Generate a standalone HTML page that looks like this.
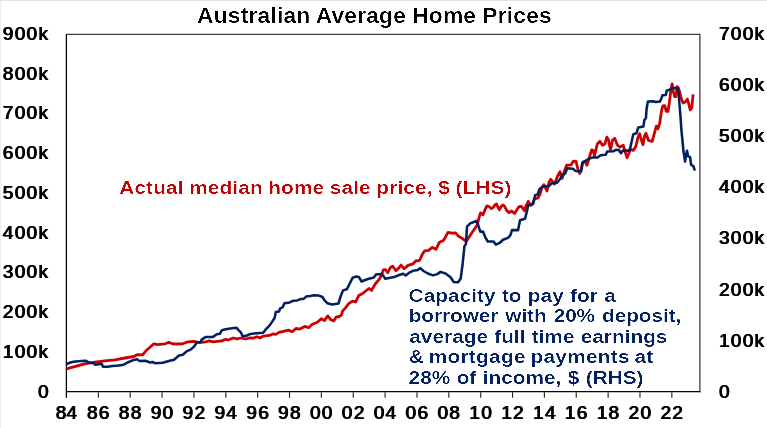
<!DOCTYPE html>
<html lang="en"><head><meta charset="utf-8"><title>Australian Average Home Prices</title>
<style>html,body{margin:0;padding:0;background:#fff;overflow:hidden}body{width:767px;height:428px}svg{display:block}text{font-family:"Liberation Sans",Arial,sans-serif}</style></head><body>
<svg width="767" height="428" viewBox="0 0 767 428">
<defs><filter id="ax" x="-20%" y="-30%" width="140%" height="160%"><feOffset in="SourceGraphic" dx="0.7" dy="0" result="o0"/><feOffset in="SourceGraphic" dx="1.4" dy="0" result="o1"/><feMerge><feMergeNode in="SourceGraphic"/><feMergeNode in="o0"/><feMergeNode in="o1"/></feMerge></filter><filter id="an" x="-5%" y="-30%" width="110%" height="160%" color-interpolation-filters="sRGB"><feGaussianBlur in="SourceGraphic" stdDeviation="0.01 0.45"/><feComponentTransfer><feFuncA type="linear" slope="3" intercept="-1.480"/></feComponentTransfer></filter><filter id="ti" x="-5%" y="-30%" width="110%" height="160%" color-interpolation-filters="sRGB"><feGaussianBlur in="SourceGraphic" stdDeviation="0.01 0.4"/><feComponentTransfer><feFuncA type="linear" slope="3" intercept="-1.480"/></feComponentTransfer></filter></defs>
<rect width="767" height="428" fill="#fff"/>
<rect x="0" y="0" width="767" height="1" fill="#e2e2e2"/>
<rect x="0" y="0" width="1" height="428" fill="#ededed"/>
<line x1="66.5" y1="34.4" x2="700.45" y2="34.4" stroke="#404040" stroke-width="1.25"/>
<line x1="699.85" y1="34.4" x2="699.85" y2="392.15000000000003" stroke="#585858" stroke-width="1.5"/>
<line x1="66.38" y1="33.9" x2="66.38" y2="397.85" stroke="#000" stroke-width="1.25"/>
<line x1="65.9" y1="391.68" x2="700.5500000000001" y2="391.68" stroke="#050505" stroke-width="1.36"/>
<line x1="98.36" y1="392.2" x2="98.36" y2="397.85" stroke="#262626" stroke-width="1.15"/>
<line x1="130.22" y1="392.2" x2="130.22" y2="397.85" stroke="#262626" stroke-width="1.15"/>
<line x1="162.08" y1="392.2" x2="162.08" y2="397.85" stroke="#262626" stroke-width="1.15"/>
<line x1="193.94" y1="392.2" x2="193.94" y2="397.85" stroke="#262626" stroke-width="1.15"/>
<line x1="225.80" y1="392.2" x2="225.80" y2="397.85" stroke="#262626" stroke-width="1.15"/>
<line x1="257.66" y1="392.2" x2="257.66" y2="397.85" stroke="#262626" stroke-width="1.15"/>
<line x1="289.52" y1="392.2" x2="289.52" y2="397.85" stroke="#262626" stroke-width="1.15"/>
<line x1="321.38" y1="392.2" x2="321.38" y2="397.85" stroke="#262626" stroke-width="1.15"/>
<line x1="353.24" y1="392.2" x2="353.24" y2="397.85" stroke="#262626" stroke-width="1.15"/>
<line x1="385.10" y1="392.2" x2="385.10" y2="397.85" stroke="#262626" stroke-width="1.15"/>
<line x1="416.96" y1="392.2" x2="416.96" y2="397.85" stroke="#262626" stroke-width="1.15"/>
<line x1="448.82" y1="392.2" x2="448.82" y2="397.85" stroke="#262626" stroke-width="1.15"/>
<line x1="480.68" y1="392.2" x2="480.68" y2="397.85" stroke="#262626" stroke-width="1.15"/>
<line x1="512.54" y1="392.2" x2="512.54" y2="397.85" stroke="#262626" stroke-width="1.15"/>
<line x1="544.40" y1="392.2" x2="544.40" y2="397.85" stroke="#262626" stroke-width="1.15"/>
<line x1="576.26" y1="392.2" x2="576.26" y2="397.85" stroke="#262626" stroke-width="1.15"/>
<line x1="608.12" y1="392.2" x2="608.12" y2="397.85" stroke="#262626" stroke-width="1.15"/>
<line x1="639.98" y1="392.2" x2="639.98" y2="397.85" stroke="#262626" stroke-width="1.15"/>
<line x1="671.84" y1="392.2" x2="671.84" y2="397.85" stroke="#262626" stroke-width="1.15"/>
<path d="M66.4,368.8 L74.6,366.6 L84.7,363.8 L94.8,362.2 L104.9,360.9 L115.0,359.9 L125.0,358.0 L133.9,356.5 L137.7,354.6 L142.7,354.8 L145.9,350.8 L150.3,347.0 L153.8,343.8 L157.6,344.7 L165.1,343.8 L168.9,342.4 L173.3,344.0 L182.8,343.8 L187.8,341.8 L194.1,341.3 L199.2,342.5 L205.5,341.8 L209.3,340.9 L213.0,341.8 L221.9,340.9 L225.7,339.3 L228.2,340.0 L233.2,338.0 L237.0,338.8 L240.8,338.0 L245.8,339.0 L249.3,338.0 L253.1,338.2 L256.9,336.7 L260.0,338.0 L263.2,336.1 L269.5,335.4 L272.7,333.9 L275.8,334.4 L279.0,332.3 L283.4,331.4 L288.4,330.1 L292.2,331.7 L296.0,328.5 L299.8,329.1 L304.8,326.4 L308.6,327.6 L312.4,324.3 L317.4,322.2 L321.2,318.8 L324.4,320.6 L327.8,315.9 L330.7,319.7 L333.8,320.9 L336.4,316.8 L339.3,316.5 L341.4,315.1 L342.5,311.1 L345.2,308.1 L348.7,303.6 L352.5,301.1 L355.6,302.0 L358.8,295.6 L362.6,293.5 L365.7,291.0 L368.9,288.5 L371.6,290.4 L375.2,284.0 L379.0,279.6 L381.5,275.2 L383.4,269.9 L385.3,269.5 L387.8,272.7 L390.3,267.7 L392.6,266.1 L396.0,270.8 L398.5,268.3 L401.0,265.1 L404.2,268.7 L408.0,265.4 L413.0,263.9 L415.7,261.0 L419.7,260.3 L422.2,254.6 L424.7,250.8 L428.5,250.4 L432.3,247.4 L436.1,249.2 L439.2,242.6 L443.6,240.3 L446.2,235.7 L448.0,232.3 L451.8,233.2 L455.6,232.8 L458.8,236.6 L462.2,238.3 L466.2,241.5 L471.4,233.5 L477.1,225.3 L479.2,217.0 L480.5,212.9 L483.0,214.8 L485.1,209.5 L486.9,205.9 L489.3,206.8 L491.4,208.7 L493.5,207.2 L494.8,204.9 L496.5,203.9 L498.2,207.8 L499.4,209.8 L501.1,206.6 L502.8,205.0 L504.5,206.2 L506.6,210.4 L509.1,212.7 L511.3,211.0 L514.6,213.4 L516.7,210.1 L518.9,206.7 L521.5,206.5 L524.4,210.8 L526.0,205.8 L528.3,201.3 L530.5,205.4 L532.7,203.6 L534.2,199.2 L537.8,198.0 L540.1,194.2 L542.0,187.2 L543.9,184.7 L547.0,191.0 L549.2,181.6 L550.8,179.3 L554.6,184.1 L557.1,177.2 L560.0,171.7 L562.2,178.4 L564.7,170.2 L566.6,165.2 L571.0,164.9 L573.5,161.1 L576.0,161.4 L578.5,171.5 L579.8,173.4 L581.5,169.0 L582.7,162.0 L584.9,161.4 L587.0,165.2 L589.5,157.0 L591.7,149.9 L593.4,150.5 L594.4,155.8 L595.5,151.6 L597.3,144.0 L599.9,141.3 L602.4,145.3 L604.9,144.0 L606.8,137.1 L608.4,139.6 L610.6,150.1 L612.5,140.3 L614.7,138.4 L617.5,145.3 L620.0,147.2 L623.2,145.1 L625.1,151.6 L627.0,157.7 L628.9,153.5 L630.4,149.1 L633.3,150.4 L635.8,146.6 L637.9,137.7 L639.6,133.7 L641.5,140.3 L643.0,144.7 L644.6,135.9 L645.9,133.3 L648.4,140.3 L652.2,141.3 L654.7,132.1 L656.4,126.1 L657.9,128.9 L659.8,122.6 L661.5,110.9 L662.8,105.9 L664.7,105.6 L666.3,111.4 L667.9,111.4 L669.4,102.5 L670.8,90.9 L672.1,83.8 L673.3,91.5 L674.7,96.7 L676.0,96.7 L677.0,86.7 L678.4,87.8 L679.9,93.0 L681.5,99.3 L683.1,103.0 L685.2,102.0 L687.3,99.1 L688.7,103.5 L690.2,109.9 L691.8,107.8 L693.1,94.3" fill="none" stroke="#cc0000" stroke-width="2.8" stroke-linejoin="round" stroke-linecap="butt"/>
<path d="M66.4,364.3 L68.9,363.0 L73.3,361.8 L80.9,361.0 L86.0,360.8 L89.1,362.5 L93.5,363.3 L95.4,364.7 L101.7,363.8 L103.0,366.8 L107.4,366.8 L112.4,366.1 L118.7,365.6 L123.8,364.7 L127.6,362.5 L132.6,360.3 L137.0,359.3 L139.6,361.0 L145.2,360.8 L150.3,362.5 L152.5,362.0 L155.0,363.2 L162.6,362.7 L168.9,361.1 L174.0,359.8 L179.0,355.6 L182.8,354.8 L186.6,351.4 L190.4,349.7 L194.1,346.6 L196.7,342.5 L200.4,342.2 L201.7,339.6 L205.5,337.1 L213.0,336.9 L216.8,334.2 L220.0,333.7 L221.9,330.2 L225.7,329.2 L232.0,328.3 L236.4,327.7 L238.3,329.9 L240.8,332.4 L242.7,336.2 L246.2,335.7 L250.6,333.9 L256.9,333.2 L263.2,332.7 L265.7,329.4 L269.5,325.6 L272.7,320.9 L274.6,318.0 L275.8,312.1 L279.0,311.5 L280.2,308.3 L282.8,307.1 L284.4,303.3 L289.7,302.4 L292.9,300.8 L297.3,300.4 L300.4,299.1 L303.6,298.9 L306.1,296.6 L310.5,296.1 L313.7,295.3 L318.7,295.6 L322.5,297.0 L324.4,300.1 L327.5,303.3 L331.9,304.5 L338.6,303.4 L340.5,296.7 L343.0,290.4 L346.8,289.3 L350.0,283.0 L352.7,277.7 L356.3,276.5 L359.0,277.1 L361.6,281.5 L365.1,280.0 L368.9,278.8 L373.9,277.5 L375.8,274.6 L381.5,274.0 L383.4,275.9 L385.3,278.8 L389.1,278.0 L394.1,277.1 L399.1,275.0 L403.2,273.7 L405.7,275.5 L409.2,272.7 L413.0,270.8 L417.8,270.1 L420.3,268.1 L423.5,271.0 L427.9,273.5 L432.9,275.4 L437.3,274.1 L440.5,271.9 L445.5,273.5 L450.6,277.3 L453.7,282.0 L458.1,282.3 L460.7,278.5 L462.6,264.0 L464.4,246.4 L466.0,243.9 L466.4,236.7 L467.0,226.6 L470.2,223.4 L473.3,222.2 L476.2,220.9 L478.0,224.7 L480.3,231.6 L483.0,231.6 L485.3,237.3 L487.8,241.5 L493.5,241.5 L495.8,244.6 L499.8,242.8 L503.0,239.8 L508.0,237.9 L510.3,235.4 L512.0,230.1 L518.1,230.1 L520.0,220.3 L525.0,218.8 L526.9,211.4 L528.2,205.4 L533.2,204.1 L535.1,195.3 L537.6,194.4 L539.5,189.1 L543.2,186.6 L548.9,186.0 L551.4,183.5 L557.1,182.8 L559.6,179.7 L562.5,175.0 L565.3,173.4 L567.2,168.3 L572.9,168.7 L575.4,170.9 L581.1,171.2 L582.3,163.3 L585.5,160.8 L589.3,158.6 L593.1,157.4 L597.5,157.6 L600.6,155.3 L605.7,154.8 L607.2,151.6 L613.2,151.3 L615.8,149.8 L618.9,150.0 L621.0,153.2 L622.8,150.6 L629.5,150.6 L631.4,142.8 L633.3,134.2 L636.4,133.3 L638.3,127.4 L643.4,126.6 L644.3,120.1 L645.9,118.2 L646.6,108.8 L647.9,101.4 L653.1,101.2 L655.8,102.0 L660.0,101.4 L661.3,98.8 L662.4,95.3 L665.8,94.9 L666.8,90.4 L670.0,89.7 L671.5,88.0 L677.3,88.0 L678.6,93.0 L679.4,103.5 L680.5,116.7 L681.4,130.0 L682.5,141.2 L683.6,152.4 L685.1,161.6 L686.2,154.1 L687.0,150.7 L688.1,156.3 L690.0,156.9 L691.1,164.8 L693.4,166.1 L694.8,170.6" fill="none" stroke="#002060" stroke-width="2.55" stroke-linejoin="round" stroke-linecap="butt"/>
<text transform="translate(197.06,23.10) scale(1.0700,1)" font-size="21.3" font-weight="bold" fill="#000" letter-spacing="0.178" word-spacing="-0.374" filter="url(#ti)">Australian Average Home Prices</text>
<text transform="translate(37.38,397.80) scale(1.0500,1)" font-size="18.0" font-weight="normal" fill="#000" letter-spacing="1.32" filter="url(#ax)">0</text>
<text transform="translate(2.25,358.02) scale(1.0500,1)" font-size="18.0" font-weight="normal" fill="#000" letter-spacing="1.32" filter="url(#ax)">100k</text>
<text transform="translate(2.25,318.24) scale(1.0500,1)" font-size="18.0" font-weight="normal" fill="#000" letter-spacing="1.32" filter="url(#ax)">200k</text>
<text transform="translate(2.25,278.47) scale(1.0500,1)" font-size="18.0" font-weight="normal" fill="#000" letter-spacing="1.32" filter="url(#ax)">300k</text>
<text transform="translate(2.25,238.69) scale(1.0500,1)" font-size="18.0" font-weight="normal" fill="#000" letter-spacing="1.32" filter="url(#ax)">400k</text>
<text transform="translate(2.25,198.91) scale(1.0500,1)" font-size="18.0" font-weight="normal" fill="#000" letter-spacing="1.32" filter="url(#ax)">500k</text>
<text transform="translate(2.25,159.13) scale(1.0500,1)" font-size="18.0" font-weight="normal" fill="#000" letter-spacing="1.32" filter="url(#ax)">600k</text>
<text transform="translate(2.25,119.36) scale(1.0500,1)" font-size="18.0" font-weight="normal" fill="#000" letter-spacing="1.32" filter="url(#ax)">700k</text>
<text transform="translate(2.25,79.58) scale(1.0500,1)" font-size="18.0" font-weight="normal" fill="#000" letter-spacing="1.32" filter="url(#ax)">800k</text>
<text transform="translate(2.25,39.80) scale(1.0500,1)" font-size="18.0" font-weight="normal" fill="#000" letter-spacing="1.32" filter="url(#ax)">900k</text>
<text transform="translate(718.40,397.80) scale(1.05,1)" font-size="18.0" font-weight="normal" fill="#000" letter-spacing="1.32" filter="url(#ax)">0</text>
<text transform="translate(718.40,346.66) scale(1.05,1)" font-size="18.0" font-weight="normal" fill="#000" letter-spacing="1.32" filter="url(#ax)">100k</text>
<text transform="translate(718.40,295.51) scale(1.05,1)" font-size="18.0" font-weight="normal" fill="#000" letter-spacing="1.32" filter="url(#ax)">200k</text>
<text transform="translate(718.40,244.37) scale(1.05,1)" font-size="18.0" font-weight="normal" fill="#000" letter-spacing="1.32" filter="url(#ax)">300k</text>
<text transform="translate(718.40,193.23) scale(1.05,1)" font-size="18.0" font-weight="normal" fill="#000" letter-spacing="1.32" filter="url(#ax)">400k</text>
<text transform="translate(718.40,142.09) scale(1.05,1)" font-size="18.0" font-weight="normal" fill="#000" letter-spacing="1.32" filter="url(#ax)">500k</text>
<text transform="translate(718.40,90.94) scale(1.05,1)" font-size="18.0" font-weight="normal" fill="#000" letter-spacing="1.32" filter="url(#ax)">600k</text>
<text transform="translate(718.40,39.80) scale(1.05,1)" font-size="18.0" font-weight="normal" fill="#000" letter-spacing="1.32" filter="url(#ax)">700k</text>
<text transform="translate(55.13,418.70) scale(1.0500,1)" font-size="18.0" font-weight="normal" fill="#000" letter-spacing="0.3" filter="url(#ax)">84</text>
<text transform="translate(86.46,418.70) scale(1.0500,1)" font-size="18.0" font-weight="normal" fill="#000" letter-spacing="1.32" filter="url(#ax)">86</text>
<text transform="translate(118.32,418.70) scale(1.0500,1)" font-size="18.0" font-weight="normal" fill="#000" letter-spacing="1.32" filter="url(#ax)">88</text>
<text transform="translate(150.18,418.70) scale(1.0500,1)" font-size="18.0" font-weight="normal" fill="#000" letter-spacing="1.32" filter="url(#ax)">90</text>
<text transform="translate(182.04,418.70) scale(1.0500,1)" font-size="18.0" font-weight="normal" fill="#000" letter-spacing="1.32" filter="url(#ax)">92</text>
<text transform="translate(213.90,418.70) scale(1.0500,1)" font-size="18.0" font-weight="normal" fill="#000" letter-spacing="1.32" filter="url(#ax)">94</text>
<text transform="translate(245.76,418.70) scale(1.0500,1)" font-size="18.0" font-weight="normal" fill="#000" letter-spacing="1.32" filter="url(#ax)">96</text>
<text transform="translate(277.62,418.70) scale(1.0500,1)" font-size="18.0" font-weight="normal" fill="#000" letter-spacing="1.32" filter="url(#ax)">98</text>
<text transform="translate(309.48,418.70) scale(1.0500,1)" font-size="18.0" font-weight="normal" fill="#000" letter-spacing="1.32" filter="url(#ax)">00</text>
<text transform="translate(341.34,418.70) scale(1.0500,1)" font-size="18.0" font-weight="normal" fill="#000" letter-spacing="1.32" filter="url(#ax)">02</text>
<text transform="translate(373.20,418.70) scale(1.0500,1)" font-size="18.0" font-weight="normal" fill="#000" letter-spacing="1.32" filter="url(#ax)">04</text>
<text transform="translate(405.06,418.70) scale(1.0500,1)" font-size="18.0" font-weight="normal" fill="#000" letter-spacing="1.32" filter="url(#ax)">06</text>
<text transform="translate(436.92,418.70) scale(1.0500,1)" font-size="18.0" font-weight="normal" fill="#000" letter-spacing="1.32" filter="url(#ax)">08</text>
<text transform="translate(468.78,418.70) scale(1.0500,1)" font-size="18.0" font-weight="normal" fill="#000" letter-spacing="1.32" filter="url(#ax)">10</text>
<text transform="translate(500.64,418.70) scale(1.0500,1)" font-size="18.0" font-weight="normal" fill="#000" letter-spacing="1.32" filter="url(#ax)">12</text>
<text transform="translate(532.50,418.70) scale(1.0500,1)" font-size="18.0" font-weight="normal" fill="#000" letter-spacing="1.32" filter="url(#ax)">14</text>
<text transform="translate(564.36,418.70) scale(1.0500,1)" font-size="18.0" font-weight="normal" fill="#000" letter-spacing="1.32" filter="url(#ax)">16</text>
<text transform="translate(596.22,418.70) scale(1.0500,1)" font-size="18.0" font-weight="normal" fill="#000" letter-spacing="1.32" filter="url(#ax)">18</text>
<text transform="translate(628.08,418.70) scale(1.0500,1)" font-size="18.0" font-weight="normal" fill="#000" letter-spacing="1.32" filter="url(#ax)">20</text>
<text transform="translate(659.94,418.70) scale(1.0500,1)" font-size="18.0" font-weight="normal" fill="#000" letter-spacing="1.32" filter="url(#ax)">22</text>
<text transform="translate(119.27,193.75) scale(1.1900,1)" font-size="17.5" font-weight="bold" fill="#c00000" letter-spacing="0.102" word-spacing="-0.291" filter="url(#an)">Actual median home sale price, $ (LHS)</text>
<text transform="translate(408.59,301.75) scale(1.1900,1)" font-size="17.5" font-weight="bold" fill="#002060" letter-spacing="0.038" word-spacing="0.323" filter="url(#an)">Capacity to pay for a</text>
<text transform="translate(408.71,321.75) scale(1.1900,1)" font-size="17.5" font-weight="bold" fill="#002060" letter-spacing="-0.069" word-spacing="1.148" filter="url(#an)">borrower with 20% deposit,</text>
<text transform="translate(409.29,342.50) scale(1.1900,1)" font-size="17.5" font-weight="bold" fill="#002060" letter-spacing="0.005" word-spacing="0.355" filter="url(#an)">average full time earnings</text>
<text transform="translate(408.74,363.00) scale(1.1900,1)" font-size="17.5" font-weight="bold" fill="#002060" letter-spacing="0.236" word-spacing="-1.168" filter="url(#an)">&amp; mortgage payments at</text>
<text transform="translate(408.60,383.75) scale(1.1900,1)" font-size="17.5" font-weight="bold" fill="#002060" letter-spacing="-0.035" word-spacing="0.695" filter="url(#an)">28% of income, $ (RHS)</text>
</svg></body></html>
